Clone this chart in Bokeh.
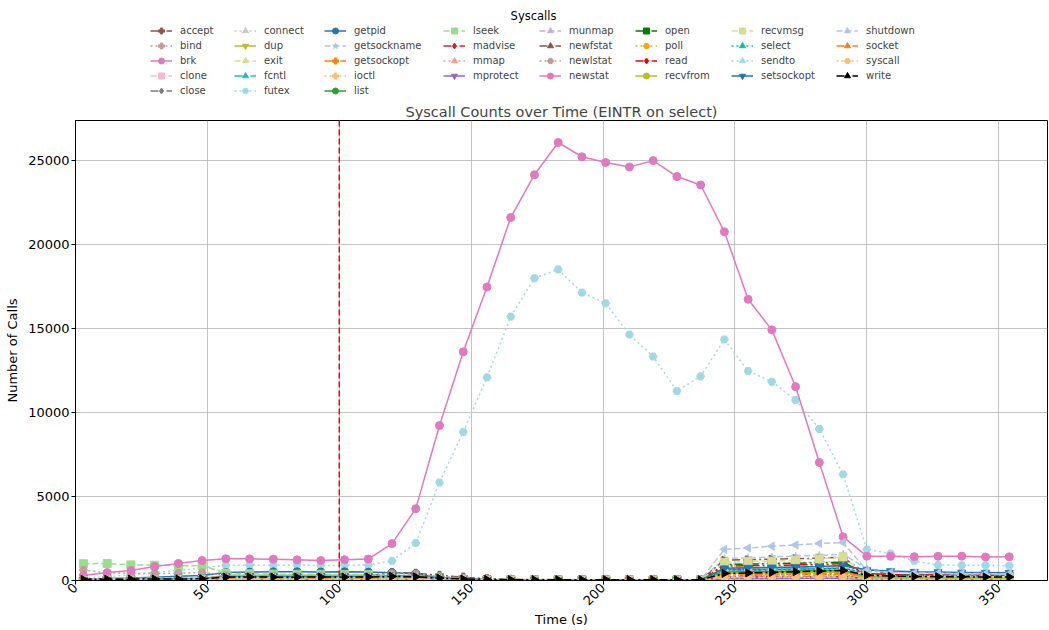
import math
from bokeh.plotting import figure
from bokeh.layouts import column
from bokeh.models import Legend, LegendItem, Span, Label, FixedTicker
from bokeh.embed import file_html
from bokeh.resources import INLINE

# ---------------- data ----------------
times = [3, 12, 21, 30, 39, 48, 57, 66, 75, 84, 93, 102, 111, 120, 129, 138, 147, 156, 165, 174,
         183, 192, 201, 210, 219, 228, 237, 246, 255, 264, 273, 282, 291, 300, 309, 318, 327, 336, 345, 354]

event_time = [100]

syscalls = ["accept", "bind", "brk", "clone", "close", "connect", "dup", "exit", "fcntl", "futex",
            "getpid", "getsockname", "getsockopt", "ioctl", "list", "lseek", "madvise", "mmap",
            "mprotect", "munmap", "newfstat", "newlstat", "newstat", "open", "poll", "read",
            "recvfrom", "recvmsg", "select", "sendto", "setsockopt", "shutdown", "socket",
            "syscall", "write"]

sc_accept = [60, 70, 90, 110, 130, 150, 250, 260, 270, 260, 250, 270, 280, 480, 430, 310, 200, 110, 70, 60, 50, 50, 50, 50, 50, 40, 40, 320, 330, 340, 360, 370, 390, 260, 220, 210, 200, 190, 190, 180]
sc_bind = [90, 80, 90, 100, 110, 120, 150, 160, 150, 140, 150, 150, 160, 210, 190, 130, 80, 40, 30, 20, 20, 20, 20, 20, 20, 20, 20, 210, 220, 230, 240, 250, 270, 160, 140, 130, 130, 120, 120, 120]
sc_brk = [40, 50, 60, 70, 80, 90, 110, 110, 120, 110, 110, 120, 110, 130, 120, 80, 50, 30, 20, 20, 20, 20, 20, 20, 20, 20, 20, 150, 160, 160, 170, 170, 180, 120, 110, 110, 100, 100, 100, 100]
sc_clone = [10, 10, 20, 20, 30, 30, 50, 50, 50, 50, 50, 50, 50, 60, 60, 40, 20, 10, 10, 10, 10, 10, 10, 10, 10, 10, 10, 110, 120, 120, 130, 130, 140, 60, 50, 50, 50, 50, 50, 50]
sc_close = [30, 40, 50, 60, 70, 80, 150, 160, 150, 150, 160, 150, 160, 200, 180, 110, 60, 40, 30, 30, 30, 30, 30, 30, 30, 30, 20, 700, 740, 770, 800, 820, 860, 650, 360, 320, 300, 290, 280, 280]
sc_connect = [20, 20, 30, 30, 40, 50, 90, 90, 90, 90, 90, 90, 90, 110, 100, 60, 30, 20, 10, 10, 10, 10, 10, 10, 10, 10, 10, 980, 1010, 1040, 1080, 1100, 1150, 320, 250, 240, 230, 230, 220, 220]
sc_dup = [30, 40, 60, 80, 100, 120, 310, 320, 320, 310, 310, 320, 310, 300, 280, 150, 80, 40, 30, 20, 20, 20, 20, 20, 20, 20, 20, 420, 440, 450, 460, 480, 500, 220, 190, 180, 170, 170, 160, 160]
sc_exit = [10, 10, 10, 20, 20, 20, 30, 30, 30, 30, 30, 30, 30, 40, 40, 20, 10, 10, 10, 10, 10, 10, 10, 10, 10, 10, 10, 140, 150, 150, 160, 160, 170, 50, 40, 40, 40, 40, 40, 40]
sc_fcntl = [80, 90, 100, 110, 120, 140, 200, 210, 200, 200, 210, 200, 210, 250, 230, 140, 80, 40, 30, 30, 30, 30, 30, 30, 30, 30, 30, 560, 580, 600, 620, 640, 680, 260, 230, 220, 220, 210, 210, 200]
sc_futex = [150, 220, 350, 480, 600, 750, 900, 920, 910, 920, 900, 900, 920, 1170, 2240, 5840, 8850, 12100, 15720, 18000, 18530, 17150, 16510, 14650, 13340, 11290, 12160, 14360, 12480, 11840, 10750, 9030, 6320, 1850, 1610, 1170, 920, 910, 900, 880]
sc_getpid = [100, 120, 150, 200, 250, 300, 480, 500, 520, 520, 510, 520, 500, 460, 400, 160, 100, 60, 40, 30, 30, 30, 30, 30, 30, 30, 30, 620, 650, 660, 680, 700, 740, 420, 360, 340, 320, 310, 300, 300]
sc_getsockname = [100, 110, 120, 140, 150, 170, 200, 200, 210, 200, 200, 210, 200, 220, 200, 120, 70, 40, 30, 30, 30, 30, 30, 30, 30, 30, 30, 1310, 1350, 1400, 1450, 1500, 1570, 700, 520, 470, 440, 420, 410, 400]
sc_getsockopt = [40, 50, 60, 80, 90, 110, 250, 260, 260, 250, 260, 250, 260, 280, 260, 150, 90, 50, 30, 30, 30, 30, 30, 30, 30, 30, 30, 340, 360, 370, 380, 390, 410, 300, 280, 270, 270, 260, 260, 250]
sc_ioctl = [20, 20, 30, 30, 40, 40, 80, 80, 80, 80, 80, 80, 80, 100, 90, 50, 30, 20, 10, 10, 10, 10, 10, 10, 10, 10, 10, 240, 250, 260, 260, 270, 280, 120, 100, 100, 90, 90, 90, 90]
sc_list = [30, 40, 50, 60, 70, 80, 140, 140, 150, 140, 140, 150, 140, 160, 150, 90, 50, 30, 20, 20, 20, 20, 20, 20, 20, 20, 20, 500, 520, 540, 560, 580, 600, 240, 210, 200, 190, 190, 180, 180]
sc_lseek = [1000, 1010, 930, 910, 880, 890, 440, 400, 380, 370, 370, 360, 350, 230, 200, 120, 60, 30, 20, 20, 20, 20, 20, 20, 20, 20, 20, 200, 210, 220, 230, 240, 250, 150, 130, 120, 120, 110, 110, 110]
sc_madvise = [20, 30, 30, 40, 50, 60, 110, 110, 120, 110, 110, 120, 110, 130, 120, 70, 40, 20, 20, 20, 20, 20, 20, 20, 20, 20, 20, 200, 210, 220, 220, 230, 240, 130, 110, 110, 100, 100, 100, 100]
sc_mmap = [30, 40, 50, 60, 70, 80, 120, 130, 130, 120, 130, 130, 120, 150, 140, 100, 80, 70, 60, 60, 60, 60, 60, 60, 60, 60, 60, 260, 270, 280, 290, 300, 310, 150, 130, 130, 120, 120, 120, 120]
sc_mprotect = [10, 10, 20, 20, 20, 30, 40, 40, 40, 40, 40, 40, 40, 50, 50, 30, 20, 10, 10, 10, 10, 10, 10, 10, 10, 10, 10, 100, 110, 110, 120, 120, 130, 50, 40, 40, 40, 40, 40, 40]
sc_munmap = [20, 20, 30, 30, 40, 40, 70, 70, 70, 70, 70, 70, 70, 80, 80, 50, 30, 20, 10, 10, 10, 10, 10, 10, 10, 10, 10, 180, 190, 190, 200, 200, 210, 90, 80, 80, 70, 70, 70, 70]
sc_newfstat = [40, 50, 60, 70, 80, 90, 170, 180, 180, 170, 180, 180, 170, 220, 200, 120, 70, 40, 30, 30, 30, 30, 30, 30, 30, 30, 30, 1210, 1240, 1270, 1300, 1330, 1380, 380, 320, 300, 290, 280, 280, 270]
sc_newlstat = [620, 460, 430, 410, 440, 480, 320, 300, 300, 290, 300, 290, 300, 420, 380, 250, 150, 90, 60, 50, 50, 50, 50, 50, 50, 50, 40, 600, 620, 640, 660, 680, 700, 300, 250, 240, 230, 230, 220, 220]
sc_newstat = [300, 470, 600, 830, 1020, 1190, 1300, 1290, 1270, 1230, 1190, 1240, 1280, 2200, 4280, 9230, 13620, 17480, 21620, 24170, 26090, 25240, 24900, 24630, 25010, 24060, 23560, 20770, 16750, 14930, 11540, 7030, 2600, 1450, 1440, 1420, 1440, 1450, 1400, 1410]
sc_open = [30, 40, 50, 60, 70, 80, 160, 170, 160, 160, 170, 160, 170, 200, 180, 110, 60, 40, 30, 30, 30, 30, 30, 30, 30, 30, 30, 950, 980, 1000, 1030, 1060, 1100, 350, 300, 290, 280, 270, 270, 260]
sc_poll = [20, 30, 40, 50, 60, 70, 130, 130, 130, 130, 130, 130, 130, 150, 140, 80, 50, 30, 20, 20, 20, 20, 20, 20, 20, 20, 20, 300, 310, 320, 330, 340, 350, 160, 140, 140, 130, 130, 130, 130]
sc_read = [50, 60, 70, 80, 100, 110, 200, 210, 200, 200, 210, 200, 210, 240, 220, 130, 80, 50, 40, 40, 40, 40, 40, 40, 40, 40, 40, 860, 880, 900, 930, 950, 1000, 400, 340, 330, 320, 310, 310, 300]
sc_recvfrom = [20, 30, 40, 50, 60, 70, 120, 120, 130, 120, 120, 130, 120, 140, 130, 80, 50, 30, 20, 20, 20, 20, 20, 20, 20, 20, 20, 430, 450, 460, 470, 490, 510, 170, 150, 150, 140, 140, 140, 140]
sc_recvmsg = [20, 30, 30, 40, 50, 60, 100, 100, 110, 100, 100, 110, 100, 120, 110, 70, 40, 20, 20, 20, 20, 20, 20, 20, 20, 20, 20, 1080, 1140, 1150, 1220, 1280, 1400, 310, 260, 250, 240, 240, 230, 230]
sc_select = [30, 40, 50, 60, 70, 80, 140, 150, 150, 140, 150, 150, 140, 170, 160, 90, 50, 30, 20, 20, 20, 20, 20, 20, 20, 20, 20, 650, 670, 690, 700, 720, 750, 300, 260, 250, 240, 240, 230, 230]
sc_sendto = [30, 40, 50, 60, 70, 80, 150, 150, 160, 150, 150, 160, 150, 180, 170, 100, 60, 30, 20, 20, 20, 20, 20, 20, 20, 20, 20, 720, 750, 770, 790, 810, 850, 320, 280, 270, 260, 250, 250, 250]
sc_setsockopt = [40, 50, 60, 80, 90, 110, 220, 230, 220, 220, 230, 220, 230, 260, 240, 140, 80, 50, 30, 30, 30, 30, 30, 30, 30, 30, 30, 730, 760, 780, 800, 830, 900, 620, 560, 520, 500, 480, 470, 460]
sc_shutdown = [50, 60, 70, 80, 90, 100, 180, 190, 180, 180, 190, 180, 190, 220, 200, 120, 70, 40, 30, 30, 30, 30, 30, 30, 30, 30, 30, 1850, 1940, 2040, 2120, 2200, 2260, 600, 480, 450, 430, 420, 410, 400]
sc_socket = [30, 40, 50, 60, 70, 80, 150, 150, 160, 150, 150, 160, 150, 180, 170, 100, 60, 30, 20, 20, 20, 20, 20, 20, 20, 20, 20, 380, 400, 410, 420, 440, 460, 230, 200, 190, 180, 180, 180, 170]
sc_syscall = [10, 20, 20, 30, 30, 40, 60, 60, 60, 60, 60, 60, 60, 70, 70, 40, 20, 10, 10, 10, 10, 10, 10, 10, 10, 10, 10, 160, 170, 170, 180, 180, 190, 80, 70, 70, 60, 60, 60, 60]
sc_write = [70, 80, 80, 90, 90, 100, 200, 210, 200, 200, 210, 200, 210, 240, 220, 140, 90, 60, 50, 50, 50, 50, 50, 50, 50, 50, 40, 420, 450, 480, 520, 560, 600, 320, 260, 240, 230, 220, 210, 210]

series = [sc_accept, sc_bind, sc_brk, sc_clone, sc_close, sc_connect, sc_dup, sc_exit, sc_fcntl,
          sc_futex, sc_getpid, sc_getsockname, sc_getsockopt, sc_ioctl, sc_list, sc_lseek,
          sc_madvise, sc_mmap, sc_mprotect, sc_munmap, sc_newfstat, sc_newlstat, sc_newstat,
          sc_open, sc_poll, sc_read, sc_recvfrom, sc_recvmsg, sc_select, sc_sendto,
          sc_setsockopt, sc_shutdown, sc_socket, sc_syscall, sc_write]

x_ticks = [0, 50, 100, 150, 200, 250, 300, 350]
y_ticks = [0, 5000, 10000, 15000, 20000, 25000]

# ---------------- styles ----------------
SOLID, DASH, DOT, DASHDOT = "solid", "6 3", "2 3", "8 3 2 3"
LEFT, RIGHT = math.pi / 2, -math.pi / 2
styles = {
    "accept": ("#8c564b", DASHDOT, "plus", 0),
    "bind": ("#c49c94", DOT, "plus", 0),
    "brk": ("#e377c2", SOLID, "circle", 0),
    "clone": ("#f7b6d2", DASH, "square", 0),
    "close": ("#7f7f7f", DASHDOT, "diamond", 0),
    "connect": ("#c7c7c7", DOT, "triangle", 0),
    "dup": ("#bcbd22", SOLID, "inverted_triangle", 0),
    "exit": ("#dbdb8d", DASH, "triangle", LEFT),
    "fcntl": ("#17becf", DASHDOT, "triangle", RIGHT),
    "futex": ("#9edae5", DOT, "hex", 0),
    "getpid": ("#1f77b4", SOLID, "circle", 0),
    "getsockname": ("#aec7e8", DASH, "star", 0),
    "getsockopt": ("#ff7f0e", DASHDOT, "plus", 0),
    "ioctl": ("#ffbb78", DOT, "plus", 0),
    "list": ("#2ca02c", SOLID, "circle", 0),
    "lseek": ("#98df8a", DASH, "square", 0),
    "madvise": ("#d62728", DASHDOT, "diamond", 0),
    "mmap": ("#ff9896", DOT, "triangle", 0),
    "mprotect": ("#9467bd", SOLID, "inverted_triangle", 0),
    "munmap": ("#c5b0d5", DASH, "triangle", LEFT),
    "newfstat": ("#8c564b", DASHDOT, "triangle", RIGHT),
    "newlstat": ("#c49c94", DOT, "hex", 0),
    "newstat": ("#e377c2", SOLID, "circle", 0),
    "open": ("#008000", DASHDOT, "square", 0),
    "poll": ("#ffa500", DOT, "hex", 0),
    "read": ("#ff0000", DASHDOT, "diamond", 0),
    "recvfrom": ("#bcbd22", SOLID, "circle", 0),
    "recvmsg": ("#dbdb8d", DASH, "square", 0),
    "select": ("#00bfbf", DOT, "triangle", 0),
    "sendto": ("#9edae5", DOT, "triangle", 0),
    "setsockopt": ("#1f77b4", SOLID, "inverted_triangle", 0),
    "shutdown": ("#aec7e8", DASH, "triangle", LEFT),
    "socket": ("#ff7f0e", DASHDOT, "triangle", RIGHT),
    "syscall": ("#ffbb78", DOT, "hex", 0),
    "write": ("#000000", DASHDOT, "triangle", RIGHT),
}

FONT = "DejaVu Sans"
W = 1049
LEG_H = 100
FRAME_LEFT = 75

# ---------------- main plot ----------------
p = figure(width=W, height=630 - LEG_H, x_range=(0, 368.5), y_range=(0, 27400),
           output_backend="svg", toolbar_location=None,
           title="Syscall Counts over Time (EINTR on select)",
           min_border_left=FRAME_LEFT, min_border_right=2, min_border_top=19, min_border_bottom=0)

p.title.align = "center"
p.title.text_font = FONT
p.title.text_font_size = "14.5px"
p.title.text_font_style = "normal"
p.title.standoff = 2

p.outline_line_color = "black"
p.outline_line_alpha = 1

for ax in (p.xaxis, p.yaxis):
    ax.axis_label_text_font = FONT
    ax.axis_label_text_font_size = "13px"
    ax.axis_label_text_font_style = "normal"
    ax.major_label_text_font = FONT
    ax.major_label_text_font_size = "13px"
    ax.major_tick_out = 4
    ax.major_tick_in = 0
    ax.minor_tick_out = 0
    ax.minor_tick_in = 0
    ax.axis_line_color = "black"
    ax.major_tick_line_color = "black"
    ax.major_label_text_color = "black"
    ax.axis_label_text_color = "black"
    ax.major_label_standoff = 2
    ax.axis_label_standoff = 2

p.xaxis.ticker = FixedTicker(ticks=x_ticks)
p.yaxis.ticker = FixedTicker(ticks=y_ticks)
p.xaxis.major_label_orientation = math.pi / 4
p.xaxis.axis_label_standoff = 0
p.xaxis.major_label_standoff = 1
p.yaxis.axis_label_standoff = 5
p.xaxis.axis_label = "Time (s)"
p.yaxis.axis_label = "Number of Calls"

p.grid.grid_line_color = "#b0b0b0"
p.grid.grid_line_alpha = 0.75
p.grid.grid_line_width = 1

for name, vals in zip(syscalls, series):
    color, dash, marker, angle = styles[name]
    p.line(times, vals, line_color=color, line_width=1.5, line_dash=dash)
    p.scatter(times, vals, marker=marker, angle=angle, size=8,
              fill_color=color, line_color=color)

for t in event_time:
    p.add_layout(Span(location=t, dimension="height", line_color="red",
                      line_dash="6 3", line_width=1.5))

# ---------------- legend panel (8 columns, matplotlib-like layout) ----------------
# the series are drawn here too, but outside the visible ranges: only their legend keys show
leg = figure(width=W, height=LEG_H, x_range=(-2, -1), y_range=(-2, -1),
             output_backend="svg", toolbar_location=None,
             x_axis_location=None, y_axis_location=None, min_border=0)
leg.grid.visible = False
leg.outline_line_color = None

key_renderers = {}
for name, vals in zip(syscalls, series):
    color, dash, marker, angle = styles[name]
    r1 = leg.line(times, vals, line_color=color, line_width=1.5, line_dash=dash)
    r2 = leg.scatter(times, vals, marker=marker, angle=angle, size=8,
                     fill_color=color, line_color=color)
    key_renderers[name] = [r1, r2]

col_sizes = [5, 5, 5, 4, 4, 4, 4, 4]
col_x = [150, 234, 324, 443, 539, 635, 731, 836]   # page x of each legend column
ITEM_H = 15
ROW_TOP = 30.7 - ITEM_H / 2
idx = 0
for n_items, cx in zip(col_sizes, col_x):
    names = syscalls[idx:idx + n_items]
    idx += n_items
    items = [LegendItem(label=n, renderers=key_renderers[n]) for n in names]
    h = n_items * ITEM_H
    lg = Legend(items=items, location=(cx - FRAME_LEFT, LEG_H - ROW_TOP - h),
                orientation="vertical",
                padding=0, margin=0, spacing=0, glyph_width=22, glyph_height=ITEM_H,
                label_height=ITEM_H, label_standoff=8, label_text_font=FONT,
                label_text_font_size="10px", border_line_alpha=0,
                background_fill_alpha=0)
    leg.add_layout(lg, "center")

leg.add_layout(Label(x=533 - FRAME_LEFT, y=LEG_H - 15, x_units="screen", y_units="screen",
                     text="Syscalls", text_align="center", text_baseline="middle",
                     text_font=FONT, text_font_size="11.5px", text_color="black"))

layout = column(leg, p, spacing=0)
open("out.html", "w").write(file_html(layout, INLINE))
